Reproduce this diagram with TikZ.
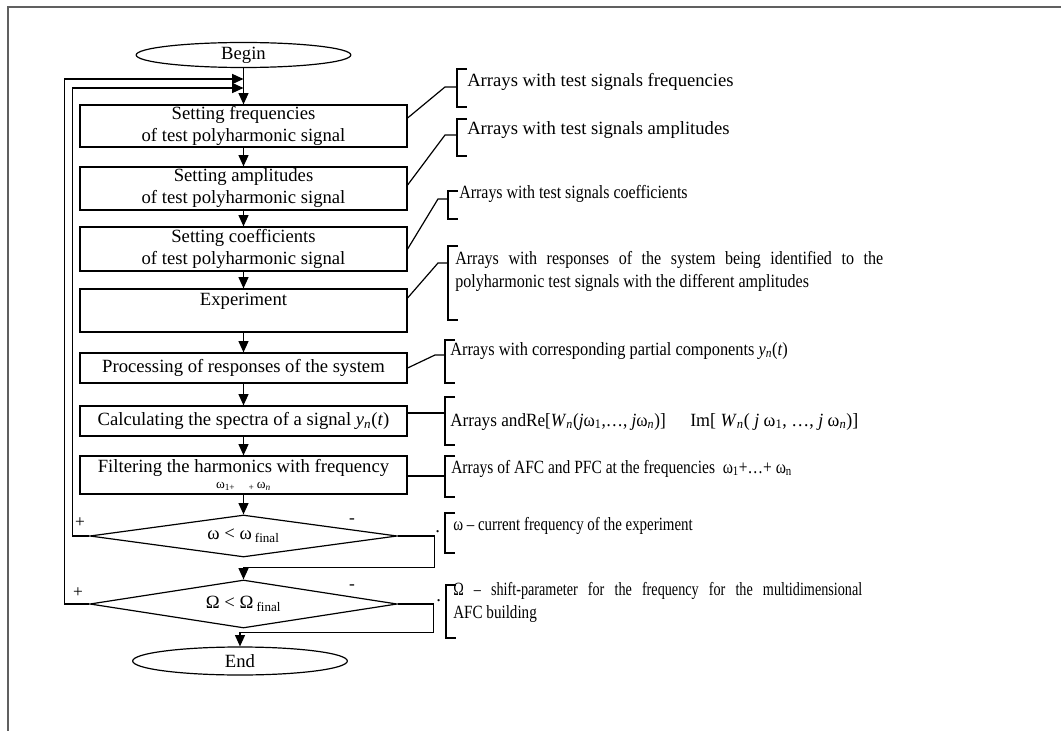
\documentclass[tikz,border=0pt]{standalone}
\usepackage{fontspec}
\usepackage{graphicx}
\setmainfont{Liberation Serif}
\usetikzlibrary{shapes.geometric,arrows.meta,calc}
\definecolor{framegray}{RGB}{96,96,96}

% square bracket opening to the right: x, top y, bottom y
\newcommand\sqbracket[3]{\draw[ln] (#1+10,#2) -- (#1,#2) -- (#1,#3) -- (#1+10,#3);}
% horizontally condensed text: factor, text
\newcommand\narrow[2]{\scalebox{#1}[1]{#2}}

\begin{document}
\begin{tikzpicture}[x=0.75pt,y=-0.75pt,
  every node/.style={font=\fontsize{14pt}{16.5pt}\selectfont, inner sep=0pt},
  ln/.style={line width=0.9pt},
  stepbox/.style={draw, line width=0.9pt, minimum width=245.25pt, align=center},
  term/.style={draw, ellipse, line width=0.9pt, minimum width=161pt},
  test/.style={draw, diamond, shape aspect=7, line width=0.9pt, minimum width=230.5pt},
  arr/.style={ln, -{Triangle[length=8.5pt,width=7.5pt]}},
  note/.style={anchor=base west},
  sign/.style={anchor=center, font=\fontsize{13pt}{15pt}\selectfont},
]
\useasboundingbox (0,0) rectangle (1061,731);

% page frame
\draw[framegray, line width=1.5pt] (8,731) -- (8,7) -- (1061,7);

% flowchart column
\node[term, minimum height=18.75pt] (begin) at (243.5,55) {Begin};
\node[stepbox, minimum height=31.5pt] (b1) at (243.5,126) {Setting frequencies\\of test polyharmonic signal};
\node[stepbox, minimum height=32.25pt] (b2) at (243.5,188.5) {Setting amplitudes\\of test polyharmonic signal};
\node[stepbox, minimum height=33pt] (b3) at (243.5,249) {Setting coefficients\\of test polyharmonic signal};
\node[stepbox, minimum height=32.25pt] (b4) at (243.5,310.5) {Experiment\\\mbox{}};
\node[stepbox, minimum height=22.5pt] (b5) at (243.5,368) {Processing of responses of the system};
\node[stepbox, minimum height=22.5pt] (b6) at (243.5,421) {Calculating the spectra of a signal \textit{y}\textsubscript{\textit{n}}(\textit{t})};
\node[stepbox, minimum height=28.5pt] (b7) at (243.5,475) {Filtering the harmonics with frequency\\[-4pt]{\fontsize{10pt}{11pt}\selectfont ω\textsubscript{1+}\quad\textsubscript{+}\,ω\textsubscript{\textit{n}}}};
\node[test, minimum height=31.5pt] (d1) at (243.5,536) {ω < ω\,\textsubscript{final}};
\node[test, minimum height=36pt] (d2) at (243.5,604) {Ω < Ω\,\textsubscript{final}};
\node[term, minimum height=21pt] (end) at (240,661) {End};

% loop entry points on the main line
\coordinate (j1) at (243.5,79);
\coordinate (j2) at (243.5,88);

% main flow
\draw[arr] (begin) -- (b1);
\draw[arr] (b1) -- (b2);
\draw[arr] (b2) -- (b3);
\draw[arr] (b3) -- (b4);
\draw[arr] (b4) -- (b5);
\draw[arr] (b5) -- (b6);
\draw[arr] (b6) -- (b7);
\draw[arr] (b7) -- (d1);

% decision branches
\draw[arr] (d1.west) -- ++(-17,0) |- (j2);
\draw[arr] (d2.west) -- ++(-25,0) |- (j1);
\draw[arr] (d1.east) -- ++(37,0) |- ($(d2.north)+(0,-12)$) -- (d2.north);
\draw[arr] (d2.east) -- ++(36,0) |- ($(end.north)+(0,-14)$) -- (end.north);

\node[sign] at (80,523) {+};
\node[sign] at (78,593) {+};
\node[sign] at (352,521) {-};
\node[sign] at (352,587) {-};

% bracket attachment points
\coordinate (k1) at (457,87);
\coordinate (k2) at (457,135);
\coordinate (k3) at (448,199);
\coordinate (k4) at (448,263);
\coordinate (k5) at (445,355);
\coordinate (k6) at (445,413);
\coordinate (k7) at (445,476);

\sqbracket{457}{69}{107}
\sqbracket{457}{119}{156}
\sqbracket{448}{191}{219}
\sqbracket{448}{246}{320}
\sqbracket{445}{340}{383}
\sqbracket{445}{397}{445}
\sqbracket{445}{456}{497}
\sqbracket{445}{513}{553}
\sqbracket{446}{585}{638}

% leaders from the steps to their data
\draw[ln] ([yshift=6pt]b1.east) -- ([xshift=-9pt]k1) -- (k1);
\draw[ln] ([yshift=2.6pt]b2.east) -- ([xshift=-9pt]k2) -- (k2);
\draw[ln] (b3.east) -- ([xshift=-7.5pt]k3) -- (k3);
\draw[ln] ([yshift=9.4pt]b4.east) -- ([xshift=-7.5pt]k4) -- (k4);
\draw[ln] (b5.east) -- ([xshift=-7.5pt]k5) -- (k5);
\draw[ln] (b6.east |- k6) -- (k6);
\draw[ln] (b7.east |- k7) -- (k7);

% data descriptions
\node[note] (t1) at (467,87) {Arrays with test signals frequencies};
\node[note] (t2) at (467,135) {Arrays with test signals amplitudes};
\node[note] (t3) at (459,199) {\narrow{0.855}{Arrays with test signals coefficients}};
\node[note] (t4a) at (455,264) {\narrow{0.86}{\makebox[373.3pt][s]{Arrays with responses of the system being identified to the}}};
\node[note] (t4b) at (455,287) {\narrow{0.86}{polyharmonic test signals with the different amplitudes}};
\node[note] (t5) at (450,355) {\narrow{0.876}{Arrays with corresponding partial components \textit{y}\textsubscript{\textit{n}}(\textit{t})}};
\node[note] (t6a) at (450,426) {\narrow{0.92}{Arrays andRe[\textit{W}\textsubscript{\textit{n}}(\textit{j}ω\textsubscript{1},…, \textit{j}ω\textsubscript{\textit{n}})]}};
\node[note] (t6b) at (690,426) {\narrow{0.96}{Im[ \textit{W}\textsubscript{\textit{n}}( \textit{j} ω\textsubscript{1}, …, \textit{j} ω\textsubscript{\textit{n}})]}};
\node[note] (t7) at (451,473) {\narrow{0.83}{Arrays of AFC and PFC at the frequencies \ ω\textsubscript{1}+…+ ω\textsubscript{n}}};
\node[note] (dot1) at (435,532) {.};
\node[note] (t8) at (453,530) {\narrow{0.8}{ω – current frequency of the experiment}};
\node[note] (dot2) at (436,601) {.};
\node[note] (t9a) at (453,595) {\narrow{0.76}{\makebox[403.6pt][s]{Ω – shift-parameter for the frequency for the multidimensional}}};
\node[note] (t9b) at (453,618) {\narrow{0.81}{AFC building}};
\end{tikzpicture}
\end{document}
